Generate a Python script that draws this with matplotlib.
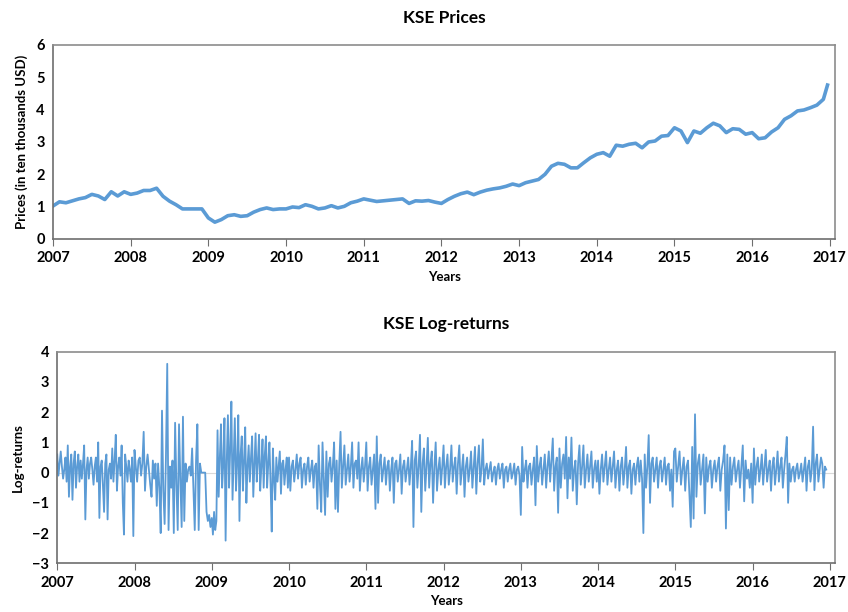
import numpy as np
import matplotlib
matplotlib.use("Agg")
import matplotlib.pyplot as plt

# fonts: Lato is the closest to the Calibri look of the original
plt.rcParams['font.family'] = ['Lato', 'DejaVu Sans']
plt.rcParams['font.weight'] = 'bold'

blue = '#5b9bd5'

# monthly KSE prices (ten thousands USD), Jan 2007 .. Dec 2016, plus the last value
prices_2007 = [1.02, 1.15, 1.12, 1.18, 1.24, 1.28, 1.38, 1.33, 1.22, 1.46, 1.33, 1.46]
prices_2008 = [1.38, 1.42, 1.50, 1.50, 1.57, 1.32, 1.17, 1.06, 0.93, 0.93, 0.93, 0.93]
prices_2009 = [0.65, 0.52, 0.60, 0.72, 0.75, 0.70, 0.72, 0.83, 0.91, 0.96, 0.91, 0.93]
prices_2010 = [0.93, 0.99, 0.97, 1.06, 1.01, 0.93, 0.96, 1.03, 0.96, 1.01, 1.12, 1.17]
prices_2011 = [1.24, 1.20, 1.16, 1.18, 1.20, 1.22, 1.24, 1.10, 1.18, 1.17, 1.19, 1.14]
prices_2012 = [1.10, 1.22, 1.32, 1.40, 1.45, 1.37, 1.45, 1.51, 1.55, 1.58, 1.63, 1.70]
prices_2013 = [1.65, 1.74, 1.79, 1.84, 2.00, 2.25, 2.34, 2.31, 2.20, 2.20, 2.36, 2.51]
prices_2014 = [2.62, 2.67, 2.56, 2.90, 2.87, 2.93, 2.96, 2.82, 3.00, 3.03, 3.18, 3.20]
prices_2015 = [3.44, 3.34, 2.98, 3.34, 3.27, 3.44, 3.58, 3.50, 3.29, 3.41, 3.39, 3.24]
prices_2016 = [3.29, 3.10, 3.13, 3.31, 3.44, 3.70, 3.81, 3.96, 3.99, 4.06, 4.14, 4.32]
price_last = 4.76

# log-returns (spikes and the dense band)
ret_2007 = [0.6, -0.1, 0.3, 0.7, 0.2, -0.2, 0.1, 0.5, -0.3, 0.9, -0.8, 0.2, 0.6, -0.9,
            0.3, 0.7, -0.5, 0.2, 0.6, -0.3, 0.4, -0.2, 0.3, 0.9, -1.55, 0.1, 0.5, -0.2,
            0.3, 0.5, 0.1, -0.4, 0.2, 0.5, -0.3, 1.0, -1.5, 0.2, 0.4, -0.4, -1.3, 0.3,
            0.6, -1.55, 0.1, 0.3, -0.2, 0.8, -0.3, 0.4, 1.25, -0.6, 0.2, 0.5, -0.1, 0.9,
            -1.0, -2.05, 0.6, 0.2, -0.3, 0.4, 0.1, -0.3, 0.5, -2.1]
ret_2008 = [0.75, 0.2, -0.3, 0.4, 0.5, -0.1, 0.3, 1.35, -0.6, 0.2, 0.6, 0.1, -0.4, -0.8,
            0.4, -0.2, 0.3, -1.1, 0.3, -0.5, -2.0, 2.05, -0.6, -1.7, 0.5, 3.6, -1.9, 0.2,
            -0.5, 0.4, -2.0, 1.65, -0.4, -1.9, 1.6, -0.2, -1.8, 1.85, -1.6, 0.3, -0.3,
            0.1, 0.2, -0.1, 0.8, -0.5, -1.9, 0.4, 1.6, -1.9, 0.3, 0.0, 0.0, 0.0, 0.0,
            -1.3, -1.6, -1.4, -1.8]
ret_2009 = [-1.5, -2.05, -1.3, -1.9, -1.6, 1.4, -0.8, 0.5, 1.6, -0.5, 0.3, 1.8, -2.25,
            0.4, 1.9, -0.5, 0.8, 2.35, -0.9, 0.5, 1.8, -0.6, 0.3, 1.9, -1.6, 0.6, 1.2,
            -0.6, 0.4, 1.5, -1.0, 0.2, 0.9, -0.3, 0.5, 1.2, -0.8, 0.3, 1.3, -0.3, 0.4,
            1.25, -0.6, 0.2, 1.1, -0.5, 0.6, 1.2, -0.5, 0.3, 1.0, -0.4, -1.95, 0.8, -0.2,
            -0.9, 0.5, -0.3, 0.2, 0.7, -0.7, 0.3, 0.4, -0.4, 0.1, 0.5, -0.5]
ret_2010 = [0.5, -0.6, 0.2, 0.4, -0.3, 0.1, 0.6, -0.2, 0.3, 0.5, -0.5, 0.1, 0.3, -0.4,
            0.2, 0.5, -0.3, 0.1, 0.4, -0.5, 0.2, 0.3, -1.2, 0.9, -0.4, -1.3, 1.0, -0.2,
            -1.4, 0.7, -0.8, 0.3, 0.5, -0.3, 0.2, 1.0, -1.2, 0.4, -1.3, 0.3, 1.35, -0.5,
            0.2, 0.9, -0.4, 0.1, 0.6, -0.3, 0.2, 1.0, -0.5, 0.3, 0.4, -0.2, 1.0, -0.6,
            0.1, 0.5, -0.3, 0.2]
ret_2011 = [1.0, -0.6, 0.2, 0.5, -0.4, 0.1, 0.6, -1.2, 1.2, -1.0, 0.3, 0.6, -0.3, 0.1,
            0.5, -0.4, 0.2, 0.4, -0.6, 0.1, 0.5, -1.0, 0.3, 0.4, -0.3, 0.1, 0.6, -0.7,
            0.2, 0.4, -0.3, 0.1, 0.5, -0.4, 0.2, 1.05, -1.8, 0.4, 0.7, -0.5, 0.2, 1.25,
            -1.3, 0.3, 0.8, -0.6, 0.2, 1.15, -0.5, 0.3, 0.7, -1.0, 0.2, 1.0, -0.6, 0.1,
            0.5, -0.4, 0.2]
ret_2012 = [0.9, -0.5, 0.2, 0.6, -0.4, 0.1, 0.9, -0.3, 0.2, 0.5, -0.7, 0.3, 0.9, -0.4,
            0.1, 0.6, -0.8, 0.2, 0.5, -0.3, 0.1, 0.7, -0.5, 0.2, 0.85, -0.7, 0.3, 0.9,
            -0.3, 0.1, 1.1, -0.4, 0.1, 0.3, -0.2, 0.1, 0.35, -0.3, 0.0, 0.2, -0.4, 0.1,
            0.3, -0.2, 0.1, 0.3, -0.5, 0.1, 0.2, -0.3, 0.1, 0.3, -0.2, 0.0, 0.3, -0.4,
            0.1, 0.2, -0.1]
ret_2013 = [-1.4, 0.85, -0.3, 0.1, 0.4, -0.5, 0.2, 0.3, -0.4, 0.1, 0.5, -1.08, 0.88,
            -0.3, 0.2, 0.5, -0.4, 0.1, 0.6, -0.5, 0.2, 0.7, -0.3, 0.4, 1.13, -0.6, 0.2,
            0.5, -1.33, 0.8, -0.5, 0.3, 0.6, -0.2, 1.18, -0.85, 0.5, -0.2, 1.16, -0.6,
            0.1, 0.4, -1.05, 0.3, 0.9, -0.4, 0.2, 0.9, -0.5, 0.1, 0.6, -0.3, 0.2, 0.7,
            -0.5, 0.1, 0.4, -0.3]
ret_2014 = [0.4, -0.7, 0.1, 0.6, -0.3, 0.2, 0.7, -0.4, 0.1, 0.5, -0.3, 0.2, 0.7, -0.5,
            0.1, 0.4, -0.6, 0.2, 0.5, -0.4, 0.1, 0.85, -0.5, 0.2, 0.4, -0.7, 0.1, 0.3,
            -0.4, 0.2, 0.5, -0.3, 0.4, -0.2, -2.0, 0.6, -0.5, 0.2, 1.24, -1.0, 0.3, 0.5,
            -0.3, 0.1, 0.5, -0.5, 0.2, 0.4, -0.3, 0.1, 0.5, -0.4, 0.2, 0.3, -0.6, 0.1,
            -1.13, 0.7]
ret_2015 = [0.8, -0.3, 0.2, 0.7, -0.4, 0.1, 0.5, -0.6, 0.2, 0.4, -0.7, -1.8, 0.85,
            -1.52, 1.93, -0.8, 0.3, 0.6, -0.4, 0.1, 0.6, -1.35, 0.5, -0.3, 0.2, 0.4, -0.5,
            0.1, 0.4, -0.3, 0.2, 0.5, -0.6, 0.1, 0.4, 0.9, -1.85, 0.6, -1.24, 0.5, -0.4,
            0.2, 0.5, -0.3, 0.1, 0.4, -0.5, 0.2, 0.9, -0.95, 0.4, -0.2, 0.1, -0.5, 0.3]
ret_2016 = [-1.0, 0.8, -0.4, 0.2, 0.5, -0.3, 0.1, 0.6, -0.4, 0.2, 0.75, -0.3, 0.1, 0.4,
            -0.6, 0.2, 0.5, -0.4, 0.1, 0.7, -0.3, 0.2, 0.5, -0.5, 0.1, 0.6, 1.18, -1.0,
            0.3, -0.3, 0.1, 0.2, -0.3, 0.1, 0.3, -0.2, 0.0, 0.3, -0.3, 0.1, 0.5, -0.6,
            0.2, 0.4, -0.3, 0.1, 1.52, -0.58, 0.3, 0.6, -0.3, 0.1, 0.5, 0.3, -0.5, 0.2,
            0.1]

years = list(range(2007, 2017))

price_years = [prices_2007, prices_2008, prices_2009, prices_2010, prices_2011,
               prices_2012, prices_2013, prices_2014, prices_2015, prices_2016]
ret_years = [ret_2007, ret_2008, ret_2009, ret_2010, ret_2011,
             ret_2012, ret_2013, ret_2014, ret_2015, ret_2016]

#build x positions (fractional years) for both series
price_x, price_y = [], []
for yr, vals in zip(years, price_years):
    price_x += list(yr + np.arange(len(vals)) / 12)
    price_y += vals
price_x.append(2016.97)
price_y.append(price_last)

ret_x, ret_y = [], []
for yr, vals in zip(years, ret_years):
    end = yr + 0.97 if yr == 2016 else yr + 1
    ret_x += list(np.linspace(yr, end, len(vals), endpoint=False))
    ret_y += vals

fig = plt.figure(figsize=(8.48, 6.12), dpi=100)
ax1 = fig.add_axes([0.0625, 0.6095, 0.9225, 0.317])
ax2 = fig.add_axes([0.0675, 0.0796, 0.9175, 0.3457])


def style(ax):
    for side in ['top', 'right']:
        ax.spines[side].set_color('#8c8c8c')
    for side in ['left', 'bottom']:
        ax.spines[side].set_color('#6e6e6e')
    for sp in ax.spines.values():
        sp.set_linewidth(1.2)
    ax.set_xlim(2007, 2017.07)
    ax.set_xticks(range(2007, 2018))
    ax.tick_params(axis='x', direction='out', length=5, color='#6e6e6e', labelsize=10.5, pad=4)
    ax.tick_params(axis='y', length=0, labelsize=10.5, pad=6)
    for lab in ax.get_xticklabels() + ax.get_yticklabels():
        lab.set_fontweight('bold')


#top: prices
ax1.plot(price_x, price_y, color=blue, lw=2.6)
ax1.set_ylim(0, 6)
ax1.set_yticks(range(0, 7))
style(ax1)
ax1.set_title('KSE Prices', fontsize=12.5, fontweight='bold', pad=16)
ax1.set_xlabel('Years', fontsize=9.5, fontweight='bold', labelpad=4)
ax1.set_ylabel('Prices (in ten thousands USD)', fontsize=9.5, fontweight='bold', labelpad=6)

#bottom: log-returns
ax2.axhline(0, color='#d9d9d9', lw=0.8, zorder=1)
ax2.plot(ret_x, ret_y, color=blue, lw=1.3, zorder=2)
ax2.set_ylim(-3, 4)
ax2.set_yticks(range(-3, 5))
style(ax2)
ax2.set_title('KSE Log-returns', fontsize=12.5, fontweight='bold', pad=16)
ax2.set_xlabel('Years', fontsize=9.5, fontweight='bold', labelpad=4)
ax2.set_ylabel('Log-returns', fontsize=9.5, fontweight='bold', labelpad=6)

fig.savefig('out.png', dpi=100)
